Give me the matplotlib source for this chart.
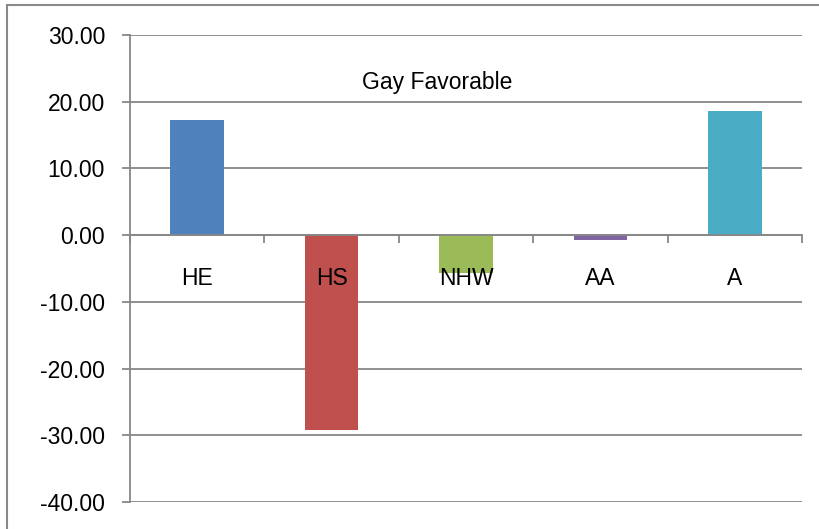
import numpy as np
import matplotlib; matplotlib.use("Agg")
import matplotlib.pyplot as plt
from matplotlib.patches import Rectangle

groups = ["HE", "HS", "NHW", "AA", "A"]
values = [17.2, -29.2, -5.6, -0.8, 18.6]
colors = ["#4F81BD", "#C0504D", "#9BBB59", "#8064A2", "#4BACC6"]
yticks = [30, 20, 10, 0, -10, -20, -30, -40]
title = "Gay Favorable"

plt.rcParams["font.family"] = ["Liberation Sans", "DejaVu Sans"]
GRID = "#878787"

fig = plt.figure(figsize=(8.19, 5.29), dpi=100)
ax = fig.add_axes([130/819, 1-502/529, 672/819, 467/529])

x = np.arange(len(groups))
ax.bar(x, values, width=0.4, color=colors, zorder=3)

ax.set_xlim(-0.5, len(groups)-0.5)
ax.set_ylim(-40, 30)
ax.set_yticks(yticks)
ax.set_yticklabels([f"{v:.2f}" for v in yticks])
ax.yaxis.grid(True, color=GRID, lw=1.3, zorder=0)
ax.tick_params(axis="y", length=6, width=1.3, color=GRID, pad=12, labelsize=16.5)

ax.set_xticks(x)
ax.set_xticklabels(groups)
ax.set_xticks(np.arange(len(groups)+1)-0.5, minor=True)
ax.tick_params(axis="x", which="major", length=0, pad=23, labelsize=16.5)
ax.tick_params(axis="x", which="minor", length=6, width=1.3, color=GRID)
ax.xaxis.set_zorder(5)  # labels sit on top of the bars

for s in ["top", "right"]:
    ax.spines[s].set_visible(False)
ax.spines["bottom"].set_position(("data", 0))
ax.spines["bottom"].set_color(GRID)
ax.spines["bottom"].set_linewidth(1.3)
ax.spines["bottom"].set_zorder(4)
ax.spines["left"].set_color(GRID)
ax.spines["left"].set_linewidth(1.3)

ax.text((437-130)/672, (502-82)/467, title, transform=ax.transAxes,
        ha="center", va="center", fontsize=16.5)

# outer chart frame (cut off on the right and bottom)
fig.patches.append(Rectangle((7/819, -0.1), 1.2, 1.1 - 5/529,
                             transform=fig.transFigure, fill=False,
                             edgecolor="#8a8a8a", lw=1.5))

fig.savefig("out.png", dpi=100)
